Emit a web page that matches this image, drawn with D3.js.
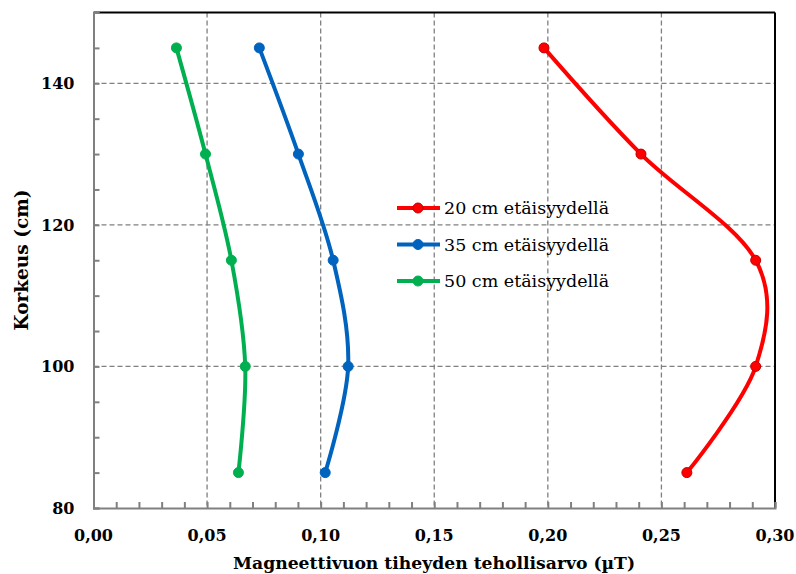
<!DOCTYPE html>
<html>
<head>
<meta charset="utf-8">
<script src="https://d3js.org/d3.v7.min.js"></script>
<style>
  body { margin: 0; background: #fff; }
</style>
</head>
<body>
<div id="chart"></div>
<script>
// data
var heights = [145, 130, 115, 100, 85];
var series20 = [0.1983, 0.2410, 0.2915, 0.2915, 0.2612];
var series35 = [0.0730, 0.0902, 0.1055, 0.1121, 0.1020];
var series50 = [0.0365, 0.0493, 0.0607, 0.0668, 0.0638];
var seriesNames = ["20 cm etäisyydellä", "35 cm etäisyydellä", "50 cm etäisyydellä"];
var seriesColors = ["#ff0000", "#0063be", "#00b050"];
var xTicks = [0, 0.05, 0.10, 0.15, 0.20, 0.25, 0.30];
var yTicks = [80, 100, 120, 140];

var FONT = "DejaVu Serif";
var W = 796, H = 574;
var margin = { top: 12.5, right: 21, bottom: 66, left: 93.5 };
var width = W - margin.left - margin.right,
    height = H - margin.top - margin.bottom;

var svg = d3.select("#chart").append("svg")
    .attr("width", W).attr("height", H)
    .attr("font-family", FONT);
var g = svg.append("g")
    .attr("transform", "translate(" + margin.left + "," + margin.top + ")");

var x = d3.scaleLinear().domain([0, 0.30]).range([0, width]);
var y = d3.scaleLinear().domain([80, 150]).range([height, 0]);

// grid
g.append("g").selectAll("line").data(xTicks.slice(1, -1)).join("line")
    .attr("x1", d => x(d)).attr("x2", d => x(d))
    .attr("y1", 0).attr("y2", height)
    .attr("stroke", "#808080").attr("stroke-width", 1.3).attr("stroke-dasharray", "5,3");
g.append("g").selectAll("line").data(yTicks.slice(1)).join("line")
    .attr("x1", 0).attr("x2", width)
    .attr("y1", d => y(d)).attr("y2", d => y(d))
    .attr("stroke", "#808080").attr("stroke-width", 1.3).attr("stroke-dasharray", "5,3");

// top and right border
g.append("line").attr("x1", 0).attr("x2", width).attr("y1", 0).attr("y2", 0)
    .attr("stroke", "#000").attr("stroke-width", 2);
g.append("line").attr("x1", width).attr("x2", width).attr("y1", 0).attr("y2", height)
    .attr("stroke", "#000").attr("stroke-width", 2);

// axes
var xAxis = g.append("g").attr("transform", "translate(0," + height + ")")
    .call(d3.axisBottom(x).tickValues(d3.range(0, 0.3001, 0.01)).tickSize(-6).tickFormat(""));
var yAxis = g.append("g")
    .call(d3.axisLeft(y).tickValues(d3.range(80, 150.1, 5)).tickSize(-6).tickFormat(""));
[xAxis, yAxis].forEach(function (a) {
    a.selectAll("path, line").attr("stroke", "#808080").attr("stroke-width", 2);
});

// tick labels
g.append("g").selectAll("text").data(xTicks).join("text")
    .attr("x", d => x(d)).attr("y", height + 33)
    .attr("text-anchor", "middle")
    .attr("font-family", FONT)
    .attr("font-size", 16).attr("font-weight", "bold")
    .text(d => d3.format(".2f")(d).replace(".", ","));
g.append("g").selectAll("text").data(yTicks).join("text")
    .attr("x", -19).attr("y", d => y(d) + 6)
    .attr("text-anchor", "end")
    .attr("font-family", FONT)
    .attr("font-size", 16).attr("font-weight", "bold")
    .text(d => d);

// axis titles
svg.append("text")
    .attr("x", 434).attr("y", 569)
    .attr("text-anchor", "middle")
    .attr("font-family", FONT)
    .attr("font-size", 17.2).attr("font-weight", "bold")
    .text("Magneettivuon tiheyden tehollisarvo (µT)");
svg.append("text")
    .attr("transform", "translate(28,260) rotate(-90)")
    .attr("text-anchor", "middle")
    .attr("font-family", FONT)
    .attr("font-size", 18.5).attr("font-weight", "bold")
    .text("Korkeus (cm)");

// series
var allSeries = [series20, series35, series50];
var line = d3.line()
    .x(d => x(d[0])).y(d => y(d[1]))
    .curve(d3.curveCardinal.tension(0));

allSeries.forEach(function (vals, i) {
    var pts = vals.map((v, j) => [v, heights[j]]);
    g.append("path").datum(pts)
        .attr("d", line)
        .attr("fill", "none")
        .attr("stroke", seriesColors[i])
        .attr("stroke-width", 4)
        .attr("stroke-linejoin", "round");
    g.append("g").selectAll("circle").data(pts).join("circle")
        .attr("cx", d => x(d[0])).attr("cy", d => y(d[1]))
        .attr("r", 5)
        .attr("fill", seriesColors[i])
        .attr("stroke", i === 0 ? "#c00000" : seriesColors[i])
        .attr("stroke-width", 1);
});

// legend
var legend = svg.append("g");
seriesNames.forEach(function (name, i) {
    var ly = 208 + i * 36.5;
    legend.append("line")
        .attr("x1", 397).attr("x2", 440).attr("y1", ly).attr("y2", ly)
        .attr("stroke", seriesColors[i]).attr("stroke-width", 4);
    legend.append("circle")
        .attr("cx", 418).attr("cy", ly).attr("r", 5)
        .attr("fill", seriesColors[i])
        .attr("stroke", i === 0 ? "#c00000" : seriesColors[i]);
    legend.append("text")
        .attr("x", 444).attr("y", ly + 6)
        .attr("font-family", FONT)
        .attr("font-size", 17.5)
        .text(name);
});
</script>
</body>
</html>
